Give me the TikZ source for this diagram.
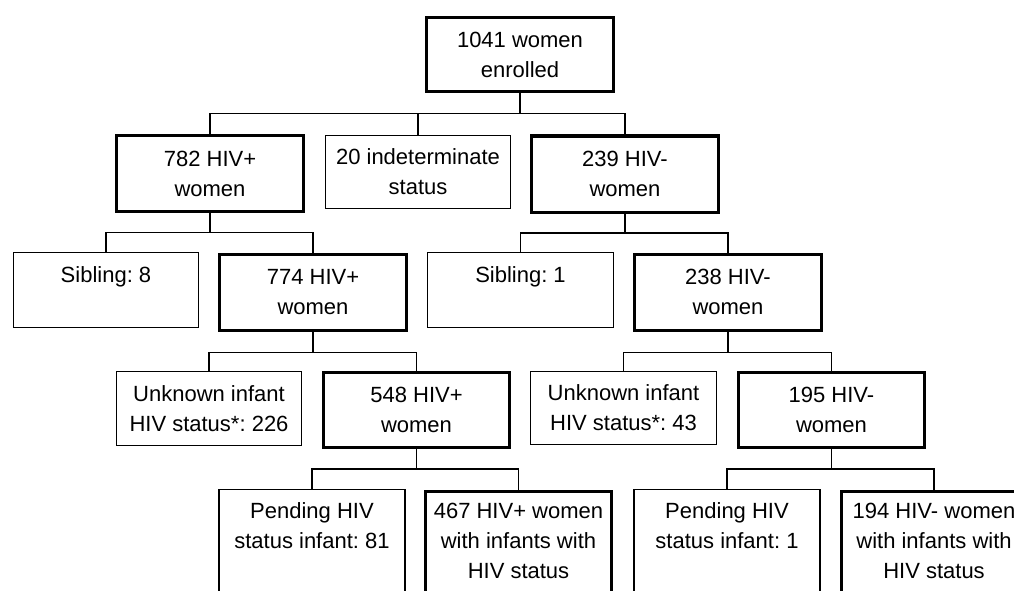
\documentclass[tikz,border=0pt]{standalone}
\usepackage{fontspec}
\setmainfont{Liberation Sans}
\frenchspacing
\begin{document}
\begin{tikzpicture}[x=1pt,y=-1pt,
  box/.style={draw, align=center, inner sep=0pt, font={\fontsize{22pt}{30pt}\selectfont}},
  thinbox/.style={box, line width=1.3pt},
  thickbox/.style={box, line width=3pt},
  btmbox/.style={inner xsep=0pt, inner ysep=13pt, anchor=north, minimum width=186pt},
  conn/.style={draw, line width=1.3pt}]
\useasboundingbox (0,0) rectangle (1014,591);
\clip (0,0) rectangle (1014,591);
\fill[white] (0,0) rectangle (1014,591);

% level 0
\node[thickbox, minimum width=187pt, minimum height=74pt] (top) at (520,54.5) {1041 women\\enrolled};
% level 1
\node[thickbox, minimum width=187pt, minimum height=76pt] (p782) at (210,173.5) {782 HIV+\\women};
\node[thinbox, minimum width=184.7pt, minimum height=72.7pt] (ind) at (418,172) {20 indeterminate\\status};
\node[thickbox, minimum width=187pt, minimum height=76pt] (n239) at (625,174) {239 HIV-\\women};
% level 2
\node[thinbox, minimum width=184.7pt, minimum height=74.7pt] (sib8) at (106,290) {Sibling: 8\\~};
\node[thickbox, minimum width=187pt, minimum height=76pt] (p774) at (313,292) {774 HIV+\\women};
\node[thinbox, minimum width=185.7pt, minimum height=74.7pt] (sib1) at (520.5,290) {Sibling: 1\\~};
\node[thickbox, minimum width=187pt, minimum height=76pt] (n238) at (728,292) {238 HIV-\\women};
% level 3
\node[thinbox, minimum width=184.7pt, minimum height=73.7pt] (unk226) at (209,408.5) {Unknown infant\\HIV status*: 226};
\node[thickbox, minimum width=186pt, minimum height=75pt] (p548) at (416.5,410) {548 HIV+\\women};
\node[thinbox, minimum width=185.7pt, minimum height=72.7pt] (unk43) at (623.5,408) {Unknown infant\\HIV status*: 43};
\node[thickbox, minimum width=186pt, minimum height=75pt] (n195) at (831.5,410) {195 HIV-\\women};
% level 4
\node[thinbox, btmbox] (pend81) at (312,488.7) {Pending HIV\\status infant: 81\\~\\~};
\node[thickbox, btmbox, inner ysep=12pt] (p467) at (518.5,489.5) {467 HIV+ women\\with infants with\\HIV status\\~};
\node[thinbox, btmbox] (pend1) at (727,488.7) {Pending HIV\\status infant: 1\\~\\~};
\node[thickbox, btmbox, inner ysep=12pt] (n194) at (934,489.5) {194 HIV- women\\with infants with\\HIV status\\~};

% connectors
\draw[conn] (top.south) -- ++(0,20.5) -| (p782.north);
\draw[conn] (top.south) -- ++(0,20.5) -| (ind.north);
\draw[conn] (top.south) -- ++(0,20.5) -| (n239.north);

\draw[conn] (p782.south) -- ++(0,19.5) -| (sib8.north);
\draw[conn] (p782.south) -- ++(0,19.5) -| (p774.north);
\draw[conn] (n239.south) -- ++(0,19.5) -| (sib1.north);
\draw[conn] (n239.south) -- ++(0,19.5) -| (n238.north);

\draw[conn] (p774.south) -- ++(0,21) -| (unk226.north);
\draw[conn] (p774.south) -- ++(0,21) -| (p548.north);
\draw[conn] (n238.south) -- ++(0,21) -| (unk43.north);
\draw[conn] (n238.south) -- ++(0,21) -| (n195.north);

\draw[conn] (p548.south) -- ++(0,20) -| (pend81.north);
\draw[conn] (p548.south) -- ++(0,20) -| (p467.north);
\draw[conn] (n195.south) -- ++(0,20) -| (pend1.north);
\draw[conn] (n195.south) -- ++(0,20) -| (n194.north);
\end{tikzpicture}
\end{document}
